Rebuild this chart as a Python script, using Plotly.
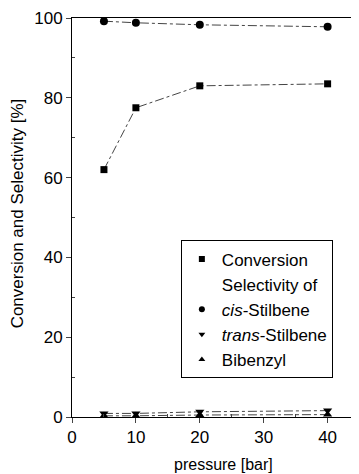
import plotly.graph_objects as go

pressure = [5, 10, 20, 40]
conversion = [62, 77.5, 83, 83.5]
sel_cis = [99.2, 98.8, 98.3, 97.8]
sel_trans = [0.9, 0.9, 1.3, 1.6]
sel_bibenzyl = [0.3, 0.3, 0.5, 0.6]

x_ticks = [0, 10, 20, 30, 40]
y_ticks = [0, 20, 40, 60, 80, 100]

FONT = "Liberation Sans, Arial, sans-serif"
line_style = dict(color="#444444", width=1, dash="dashdot")

series = [
    ("Conversion", conversion, "square", 7),
    ("<i>cis</i>-Stilbene", sel_cis, "circle", 8),
    ("<i>trans</i>-Stilbene", sel_trans, "triangle-down", 8),
    ("Bibenzyl", sel_bibenzyl, "triangle-up", 8),
]

fig = go.Figure()
for name, vals, sym, sz in series:
    fig.add_trace(go.Scatter(x=pressure, y=vals, mode="lines+markers", showlegend=False,
                             line=line_style, marker=dict(symbol=sym, size=sz, color="black")))

# legend-only entries (markers only, as in the reference)
legend_entries = [
    ("Conversion", "square", "black"),
    ("Selectivity of", "circle", "rgba(0,0,0,0)"),
    ("<i>cis</i>-Stilbene", "circle", "black"),
    ("<i>trans</i>-Stilbene", "triangle-down", "black"),
    ("Bibenzyl", "triangle-up", "black"),
]
for name, sym, col in legend_entries:
    fig.add_trace(go.Scatter(x=[None], y=[None], mode="markers", name=name,
                             marker=dict(symbol=sym, size=6, color=col)))

fig.update_layout(
    width=351, height=466,
    margin=dict(l=64, r=2, t=10, b=57),
    paper_bgcolor="white", plot_bgcolor="white",
    font=dict(family=FONT, size=17, color="black"),
    showlegend=True,
    legend=dict(x=0.382, y=0.4425, xanchor="left", yanchor="top",
                bordercolor="black", borderwidth=1, bgcolor="white",
                font=dict(size=17), itemwidth=30, tracegroupgap=0),
    xaxis=dict(range=[0, 44.6], tickvals=x_ticks, ticks="outside", ticklen=5,
               showline=True, linecolor="black", linewidth=1, mirror=True,
               showgrid=False, zeroline=False, automargin=False,
               ticklabeloverflow="allow",
               minor=dict(tickvals=[5, 15, 25, 35], ticks="inside", ticklen=3),
               tickfont=dict(size=17)),
    yaxis=dict(range=[0, 100], tickvals=y_ticks, ticks="outside", ticklen=5,
               showline=True, linecolor="black", linewidth=1, mirror=True,
               showgrid=False, zeroline=False, automargin=False,
               ticklabeloverflow="allow",
               minor=dict(tickvals=[10, 30, 50, 70, 90], ticks="inside", ticklen=3),
               tickfont=dict(size=17)),
    annotations=[
        dict(text="pressure [bar]", xref="paper", yref="paper", x=0.53, y=-0.12,
             xanchor="center", yanchor="middle", showarrow=False, font=dict(size=16)),
        dict(text="Conversion and Selectivity [%]", xref="paper", yref="paper",
             x=-0.19, y=0.51, xanchor="center", yanchor="middle", textangle=-90,
             showarrow=False, font=dict(size=17)),
    ],
)

fig.write_html("out.html")
